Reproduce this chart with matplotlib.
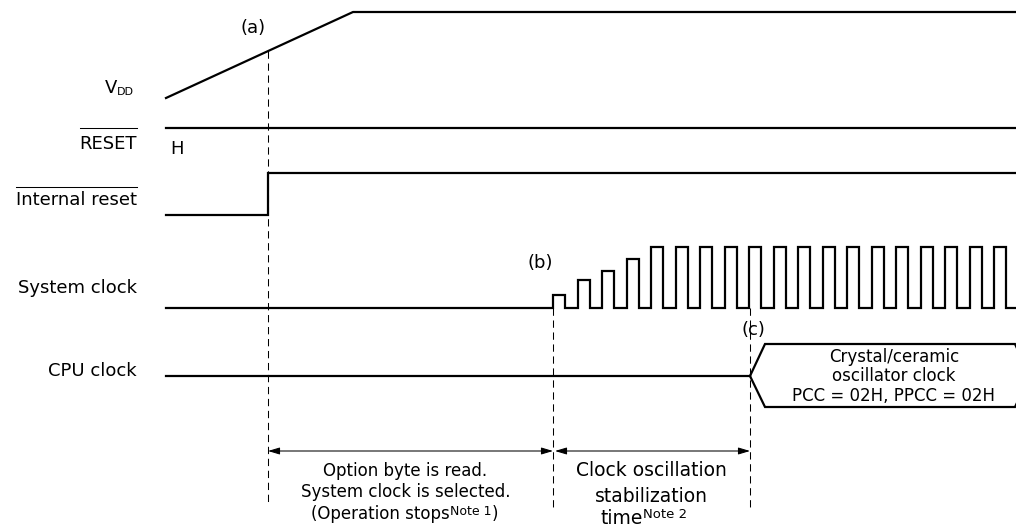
import matplotlib.pyplot as plt

plt.rcParams['font.family'] = 'DejaVu Sans'

# --- Picture size (px), y grows downwards like the original drawing ---
W, H = 1016, 525

# --- Timing events (x in px) ---
T_A = 268      # (a) internal reset released
T_B = 553      # (b) oscillation starts
T_C = 750      # (c) CPU clock switches to crystal
X_START = 166
X_END = 1016

# --- Signal levels ---
VDD_X = [166, 353, 1016]
VDD_Y = [98, 12, 12]
RESET_Y = 128
IRES_LOW = 215
IRES_HIGH = 173
SYS_BASE = 308
CLK_PERIOD = 24.5
CLK_WIDTH = 12
CLK_AMPS = [13, 28, 37, 49, 61, 61, 61, 61, 61, 61, 61, 61, 61, 61, 61, 61, 61, 61, 61]
CPU_Y = 376

# CPU clock box
BOX_TOP = 344
BOX_BOT = 407
BOX_TIP = 15
BOX_RIGHT = 1015
BOX_LINES = ['Crystal/ceramic', 'oscillator clock', 'PCC = 02H, PPCC = 02H']
BOX_LINE_Y = [357, 376, 396]

# left hand labels
SIG_LABELS = ['RESET', 'Internal reset', 'System clock', 'CPU clock']
SIG_LABEL_Y = [144, 200, 288, 371]
OVERLINE_Y = {'RESET': 128, 'Internal reset': 187}
LABEL_RIGHT = 137

# bottom annotations
ARROW_Y = 451
LEFT_NOTE = ['Option byte is read.', 'System clock is selected.']
LEFT_NOTE_Y = [471, 492]
RIGHT_NOTE = ['Clock oscillation', 'stabilization']
RIGHT_NOTE_Y = [470, 496]

SIG_LW = 1.6
THIN_LW = 0.75
DASH = (0, (7, 4.5))

fig = plt.figure(figsize=(W / 100, H / 100), dpi=100)
ax = fig.add_axes([0, 0, 1, 1])
ax.set_xlim(0, W)
ax.set_ylim(H, 0)
ax.axis('off')

# --- Signals ---
ax.plot(VDD_X, VDD_Y, color='black', lw=SIG_LW)
ax.plot([X_START, X_END], [RESET_Y, RESET_Y], color='black', lw=SIG_LW)
ax.plot([X_START, T_A, T_A, X_END], [IRES_LOW, IRES_LOW, IRES_HIGH, IRES_HIGH],
        color='black', lw=SIG_LW, solid_joinstyle='miter')

cx = [X_START]
cy = [SYS_BASE]
for i, amp in enumerate(CLK_AMPS):
    x0 = T_B + i * CLK_PERIOD
    x1 = x0 + CLK_WIDTH
    cx += [x0, x0, x1, x1]
    cy += [SYS_BASE, SYS_BASE - amp, SYS_BASE - amp, SYS_BASE]
cx.append(X_END)
cy.append(SYS_BASE)
ax.plot(cx, cy, color='black', lw=SIG_LW, solid_joinstyle='miter')

ax.plot([X_START, T_C], [CPU_Y, CPU_Y], color='black', lw=SIG_LW)
bx = [T_C, T_C + BOX_TIP, BOX_RIGHT, BOX_RIGHT + BOX_TIP, BOX_RIGHT, T_C + BOX_TIP, T_C]
by = [CPU_Y, BOX_TOP, BOX_TOP, CPU_Y, BOX_BOT, BOX_BOT, CPU_Y]
ax.plot(bx, by, color='black', lw=SIG_LW, solid_joinstyle='miter')
box_cx = (T_C + BOX_TIP + BOX_RIGHT) / 2 + 4
for txt, y in zip(BOX_LINES, BOX_LINE_Y):
    ax.text(box_cx, y, txt, ha='center', va='center', fontsize=12)

# --- Dashed event markers ---
y_a = VDD_Y[0] + (T_A - VDD_X[0]) * (VDD_Y[1] - VDD_Y[0]) / (VDD_X[1] - VDD_X[0])
ax.plot([T_A, T_A], [y_a, 503], color='black', lw=THIN_LW, linestyle=DASH)
ax.plot([T_B, T_B], [SYS_BASE, 510], color='black', lw=THIN_LW, linestyle=DASH)
ax.plot([T_C, T_C], [SYS_BASE, 510], color='black', lw=THIN_LW, linestyle=DASH)

ax.text(253, 28, '(a)', ha='center', va='center', fontsize=13)
ax.text(540, 263, '(b)', ha='center', va='center', fontsize=13)
ax.text(753, 330, '(c)', ha='center', va='center', fontsize=13)

# --- Left labels ---
v = ax.text(105, 88, 'V', ha='left', va='center', fontsize=13)
ax.annotate('DD', xy=(1, 0), xycoords=v, ha='left', va='bottom', fontsize=8)
ax.text(170, 149, 'H', ha='left', va='center', fontsize=13)

fig.canvas.draw()
renderer = fig.canvas.get_renderer()
inv = ax.transData.inverted()
for name, y in zip(SIG_LABELS, SIG_LABEL_Y):
    t = ax.text(LABEL_RIGHT, y, name, ha='right', va='center', fontsize=13)
    if name in OVERLINE_Y:
        bb = t.get_window_extent(renderer).transformed(inv)
        oy = OVERLINE_Y[name]
        ax.plot([bb.x0, bb.x1], [oy, oy], color='black', lw=THIN_LW)

# --- Duration arrows ---
arrow = dict(arrowstyle='<|-|>,head_length=0.5,head_width=0.15', color='black',
             lw=THIN_LW, shrinkA=0, shrinkB=0, mutation_scale=14)
ax.annotate('', xy=(T_A, ARROW_Y), xytext=(T_B, ARROW_Y), arrowprops=arrow)
ax.annotate('', xy=(T_B + 2, ARROW_Y), xytext=(T_C, ARROW_Y), arrowprops=arrow)

left_cx = (T_A + T_B) / 2 - 5
for txt, y in zip(LEFT_NOTE, LEFT_NOTE_Y):
    ax.text(left_cx, y, txt, ha='center', va='center', fontsize=12)
op = ax.text(450, 514, '(Operation stops', ha='right', va='center', fontsize=12)
n1 = ax.annotate('Note 1', xy=(1, 1), xycoords=op, ha='left', va='top', fontsize=9)
ax.annotate(')', xy=(1, 0), xycoords=(n1, op), ha='left', va='bottom', fontsize=12)

right_cx = (T_B + T_C) / 2
for txt, y in zip(RIGHT_NOTE, RIGHT_NOTE_Y):
    ax.text(right_cx, y, txt, ha='center', va='center', fontsize=13.5)
tm = ax.text(643, 518, 'time', ha='right', va='center', fontsize=13.5)
ax.annotate('Note 2', xy=(1, 1), xycoords=tm, ha='left', va='top', fontsize=9.5)

fig.savefig('out.png', dpi=100)
